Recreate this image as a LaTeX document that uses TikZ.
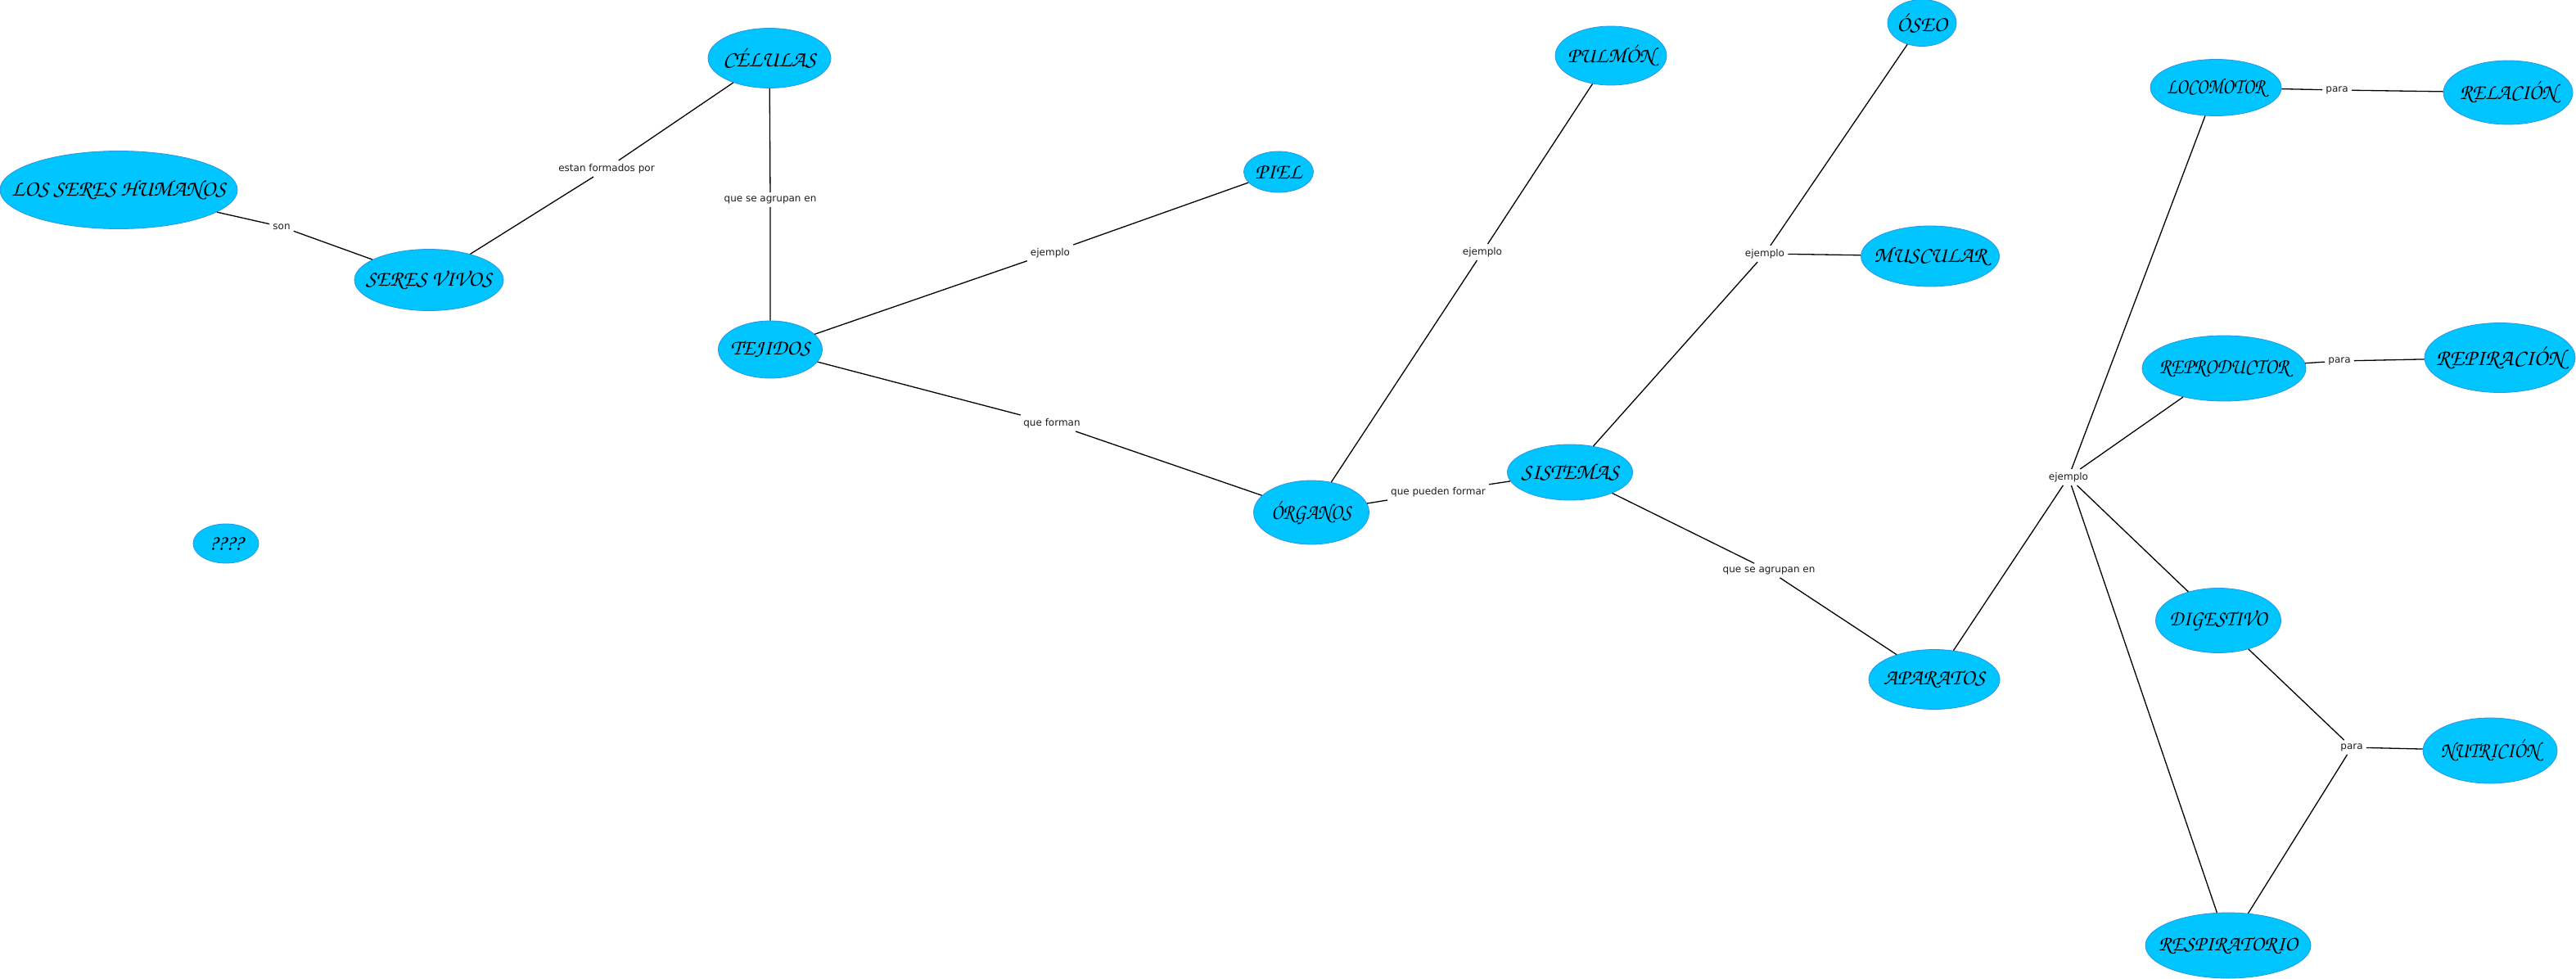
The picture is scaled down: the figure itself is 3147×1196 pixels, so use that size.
\documentclass[tikz,border=0pt]{standalone}
\usepackage[T1,TU]{fontenc}
\usepackage{fontspec}
\usepackage{graphicx}
\newfontfamily\lblfamily{DejaVu Sans}
\usetikzlibrary{shapes.geometric}
\definecolor{cyanfill}{RGB}{0,197,255}
\definecolor{cyanedge}{RGB}{40,150,230}
\definecolor{lbltext}{RGB}{30,30,30}
\newcommand\conceptfont[1]{\fontencoding{T1}\fontfamily{pzc}\fontseries{m}\fontshape{it}\fontsize{#1}{#1}\selectfont}
\newcommand\lblfont{\lblfamily\fontsize{12}{14}\selectfont}
\newcommand\hs[2]{\scalebox{#1}[1]{#2}}
\tikzset{
  concept/.style={ellipse, fill=cyanfill, draw=cyanedge, line width=0.8pt, inner sep=0pt},
  ctext/.style={font=\conceptfont{#1}, text=black, inner sep=0pt},
  ctext/.default=27,
  lbl/.style={font=\lblfont, text=lbltext, inner sep=4pt},
  conn/.style={draw=black, line width=1.3pt}
}
\begin{document}
\begin{tikzpicture}[x=1pt,y=-1pt]
\useasboundingbox[fill=white] (0,0) rectangle (3147,1196);
% concepts
\node[concept, minimum width=290, minimum height=95, label={[ctext=27.6]center:LOS SERES HUMANOS}] (hum) at (145,232) {};
\node[concept, minimum width=182, minimum height=75, label={[ctext=27]center:SERES VIVOS}] (viv) at (524,342) {};
\node[concept, minimum width=150, minimum height=73, label={[ctext=27.5]center:C\'ELULAS}] (cel) at (940,71) {};
\node[concept, minimum width=127, minimum height=70, label={[ctext=26.5]center:TEJIDOS}] (tej) at (941,427) {};
\node[concept, minimum width=85, minimum height=50, label={[ctext=27]center:PIEL}] (piel) at (1562,210) {};
\node[concept, minimum width=141, minimum height=78, label={[ctext=27]center:\hs{0.86}{\'ORGANOS}}] (org) at (1602,626) {};
\node[concept, minimum width=136, minimum height=72, label={[ctext=26.5]center:PULM\'ON}] (pul) at (1968,68) {};
\node[concept, minimum width=84, minimum height=57, label={[ctext=27]center:\'OSEO}] (oseo) at (2348,28) {};
\node[concept, minimum width=169, minimum height=74, label={[ctext=27]center:MUSCULAR}] (mus) at (2358,313) {};
\node[concept, minimum width=153, minimum height=68, label={[ctext=27.5]center:SISTEMAS}] (sis) at (1918,577) {};
\node[concept, minimum width=160, minimum height=73, label={[ctext=27]center:APARATOS}] (apa) at (2363,830) {};
\node[concept, minimum width=160, minimum height=69, label={[ctext=27]center:\hs{0.81}{LOCOMOTOR}}] (loc) at (2707,107) {};
\node[concept, minimum width=158, minimum height=78, label={[ctext=27]center:\hs{0.94}{RELACI\'ON}}] (rel) at (3064,113) {};
\node[concept, minimum width=200, minimum height=80, label={[ctext=27]center:\hs{0.88}{REPRODUCTOR}}] (rep) at (2717,450) {};
\node[concept, minimum width=184, minimum height=85, label={[ctext=28]center:REPIRACI\'ON}] (repi) at (3054,437) {};
\node[concept, minimum width=153, minimum height=79, label={[ctext=27]center:\hs{0.9}{DIGESTIVO}}] (dig) at (2710,758) {};
\node[concept, minimum width=164, minimum height=80, label={[ctext=27]center:\hs{0.87}{NUTRICI\'ON}}] (nut) at (3042,917) {};
\node[concept, minimum width=202, minimum height=80, label={[ctext=26]center:RESPIRATORIO}] (resp) at (2722,1155) {};
\node[concept, minimum width=80, minimum height=48, label={[ctext=27]center:????}] (qq) at (276,664) {};
% link labels
\node[lbl] (lson) at (344,277) {son};
\node[lbl] (lest) at (741,206) {estan formados por};
\node[lbl] (lagra) at (941,244) {que se agrupan en};
\node[lbl] (leja) at (1283,309) {ejemplo};
\node[lbl] (lform) at (1285,517) {que forman};
\node[lbl] (lejb) at (1811,308) {ejemplo};
\node[lbl] (lpf) at (1757,601) {que pueden formar};
\node[lbl] (lejc) at (2156,310) {ejemplo};
\node[lbl] (lagrb) at (2161,697) {que se agrupan en};
\node[lbl] (lejd) at (2527,583) {ejemplo};
\node[lbl] (lpara) at (2855,110) {para};
\node[lbl] (lparb) at (2858,441) {para};
\node[lbl] (lparc) at (2873,913) {para};
% connectors
\draw[conn] (hum) -- (lson) -- (viv);
\draw[conn] (viv) -- (lest) -- (cel);
\draw[conn] (cel) -- (lagra) -- (tej);
\draw[conn] (tej) -- (leja) -- (piel);
\draw[conn] (tej) -- (lform) -- (org);
\draw[conn] (org) -- (lejb) -- (pul);
\draw[conn] (org) -- (lpf) -- (sis);
\draw[conn] (sis) -- (lejc);
\draw[conn] (lejc) -- (oseo);
\draw[conn] (lejc) -- (mus);
\draw[conn] (sis) -- (lagrb) -- (apa);
\draw[conn] (apa) -- (lejd);
\draw[conn] (lejd) -- (loc);
\draw[conn] (lejd) -- (rep);
\draw[conn] (lejd) -- (dig);
\draw[conn] (lejd) -- (resp);
\draw[conn] (loc) -- (lpara) -- (rel);
\draw[conn] (rep) -- (lparb) -- (repi);
\draw[conn] (dig) -- (lparc);
\draw[conn] (resp) -- (lparc);
\draw[conn] (lparc) -- (nut);
\end{tikzpicture}
\end{document}
